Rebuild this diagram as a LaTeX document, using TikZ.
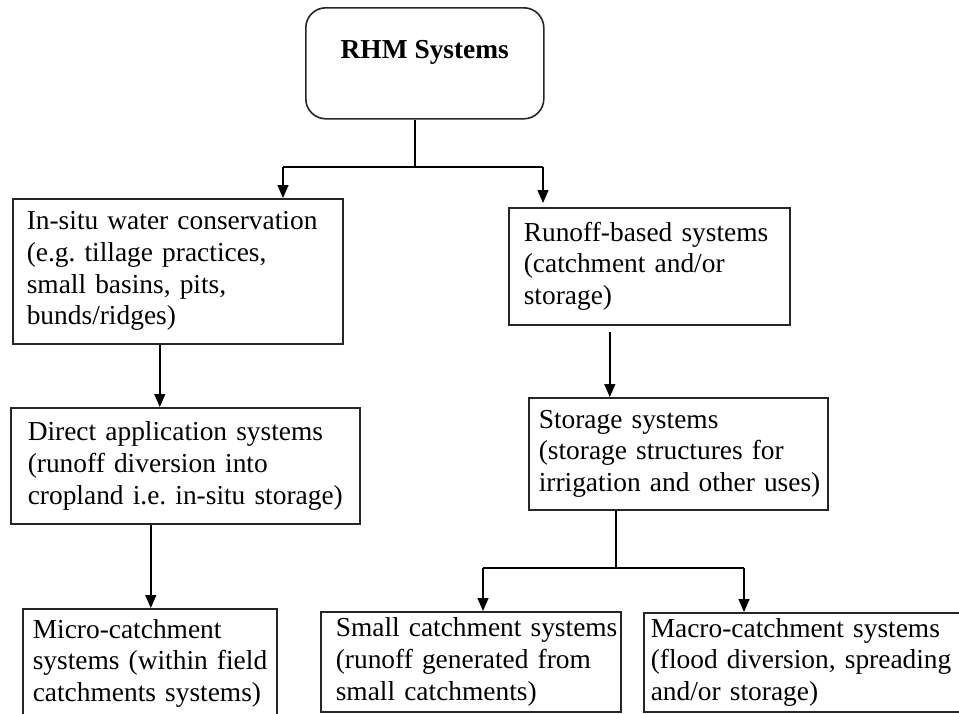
\documentclass[tikz,border=0pt]{standalone}
\usepackage{fontspec}
\setmainfont{Liberation Serif}
\usetikzlibrary{arrows.meta}

\newcommand{\boxfont}{\fontsize{13.7pt}{15.85pt}\selectfont\frenchspacing}

\tikzset{
  sysbox/.style={draw=black!85, line width=0.8pt, rectangle, anchor=north west, align=left, inner xsep=0pt, inner ysep=0pt},
  textpad/.style={execute at begin node={\leftskip=#1\relax\rightskip=-10pt plus 1fil\relax}},
  link/.style={line width=0.7pt},
  arr/.style={link, -{Triangle[width=5.5pt,length=6.5pt]}},
}

\begin{document}
\begin{tikzpicture}[x=0.5pt, y=-0.5pt, font=\boxfont]
\useasboundingbox (0,0) rectangle (959,713);
\clip (0,0) rectangle (959,713);

% top box
\node[draw=black!85, line width=0.8pt, rounded corners=10pt, anchor=north west, minimum width=119pt, text height=25.5pt, text depth=30pt, inner sep=0pt, font=\boxfont\bfseries] (rhm) at (305,7) {RHM Systems};

% second row
\node[sysbox, text width=165pt, minimum height=72.5pt, textpad=7pt] (insitu) at (12,198) {In-situ water conservation\\(e.g. tillage practices,\\small basins, pits,\\bunds/ridges)};
\node[sysbox, text width=140.5pt, minimum height=58.5pt, textpad=7.5pt] (runoff) at (508,207) {Runoff-based systems\\(catchment and/or\\storage)};

% third row
\node[sysbox, text width=174.5pt, minimum height=58pt, textpad=8.5pt] (direct) at (10,407) {Direct application systems\\(runoff diversion into\\cropland i.e. in-situ storage)};
\node[sysbox, text width=149.5pt, minimum height=56pt, textpad=5pt] (storage) at (528,397) {Storage systems\\(storage structures for\\irrigation and other uses)};

% bottom row
\node[sysbox, text width=127pt, minimum height=54.5pt, textpad=5pt] (micro) at (22,608) {Micro-catchment\\systems (within field\\catchments systems)};
\node[sysbox, text width=150pt, minimum height=50pt, textpad=7.5pt] (small) at (320,611) {Small catchment systems\\(runoff generated from\\small catchments)};
\node[sysbox, text width=170pt, minimum height=49.5pt, textpad=3.5pt] (macro) at (643,612) {Macro-catchment systems\\(flood diversion, spreading\\and/or storage)};

% connectors
\coordinate (hub) at (415,167);
\coordinate (hubL) at (283,167);
\coordinate (hubR) at (543,167);
\draw[link] (rhm.south -| hub) -- (hub);
\draw[link] (hubL) -- (hubR);
\draw[arr] (hubL) -- (hubL |- insitu.north);
\draw[arr] (hubR) -- ([yshift=2pt]hubR |- runoff.north);

\draw[arr] ([xshift=-9pt]insitu.south) -- ([xshift=-9pt]insitu.south |- direct.north);
\draw[arr] ([xshift=-17.25pt]direct.south) -- ([xshift=-17.25pt]direct.south |- micro.north);
\draw[arr] ([xshift=-19.75pt,yshift=-3pt]runoff.south) -- ([xshift=-19.75pt]runoff.south |- storage.north);

\coordinate (hub2) at (616,568);
\coordinate (hub2L) at (483,568);
\coordinate (hub2R) at (744,568);
\draw[link] (storage.south -| hub2) -- (hub2);
\draw[link] (hub2L) -- (hub2R);
\draw[arr] (hub2L) -- (hub2L |- small.north);
\draw[arr] (hub2R) -- (hub2R |- macro.north);

\end{tikzpicture}
\end{document}
